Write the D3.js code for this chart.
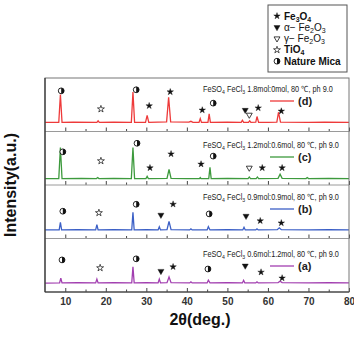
<!DOCTYPE html>
<html>
<head>
<meta charset="utf-8">
<script src="https://cdn.jsdelivr.net/npm/d3@7"></script>
<style>
  body { margin: 0; background: #fff; }
  #chart { width: 354px; height: 337px; }
</style>
</head>
<body>
<div id="chart"></div>
<script>
// XRD patterns, [2theta, intensity] where intensity is 0..100 of its own panel
const patternD = [[5,17],[8.4,17],[8.8,69],[9.2,17],[12,17.5],[17.8,17],[18.1,20],[18.4,17],[22,17.5],[26.3,17],[26.7,74],[27.1,17],[29.8,17],[30.2,30],[30.6,17],[35.0,18],[35.5,64],[36.0,18],[40.5,17.5],[41,19],[41.5,17],[43.0,17],[43.3,24],[43.6,17],[45.2,17],[45.5,33],[45.8,17],[50,17.5],[53.4,17],[53.7,21],[54,17],[55.2,17],[55.5,20],[55.8,17],[57.0,17.5],[57.3,28],[57.7,17],[60,17],[62.2,17.5],[62.6,36],[63.1,17.5],[70,17],[74,17.5],[80,17]];
const patternC = [[5,12],[8.4,12],[8.8,70],[9.2,12],[14,12.5],[17.7,12],[18,14],[18.3,12],[22,12.5],[26.3,12],[26.7,70],[27.1,12],[29.9,12],[30.2,16],[30.5,12],[35.1,12.5],[35.6,29],[36.1,12.5],[40,12],[43.1,12],[43.3,14],[43.5,12],[45.4,12],[45.7,33],[46,12],[50,12.5],[55.1,12],[55.4,15],[55.7,12],[57.1,12],[57.4,15],[57.7,12],[62.5,12.5],[63,20],[63.5,12.5],[69.4,12],[69.7,14],[70,12],[75,12.5],[80,12]];
const patternB = [[5,16],[8.5,16],[8.8,30],[9.1,16],[13,16.5],[17.5,16],[17.8,26],[18.1,16],[22,16.5],[26.4,16],[26.7,49],[27,16],[30,16.5],[32.9,16],[33.2,22],[33.5,16],[35.1,16.5],[35.6,32],[36.1,16.5],[40.7,16],[41,18],[41.3,16],[45,16],[45.3,22],[45.7,16],[50,16.5],[53.8,16],[54.1,21],[54.4,16],[57,16],[57.3,18],[57.6,16],[62.3,16.5],[62.8,20],[63.3,16.5],[70,16],[75,16.5],[80,16]];
const patternA = [[5,16.5],[8.6,17],[8.9,26],[9.2,17],[13,17.5],[17.5,17],[17.8,24],[18.1,17],[22,17.5],[26.4,17],[26.7,47],[27,17],[30,17.5],[32.9,17],[33.2,24],[33.5,17],[35.1,17.5],[35.6,28],[36.1,17.5],[40.7,17],[41,19],[41.3,17],[45,17],[45.3,22],[45.7,17],[50,17.5],[53.7,17],[54,22],[54.3,17],[57,17],[57.3,19],[57.6,17],[62.5,17.5],[63,20],[63.5,17.5],[70,17],[75,17.5],[80,17]];

// phase markers, [type, 2theta, level]
const markersD = [["mica",9,76],["tio",18.8,42],["mica",27.5,78],["star",30.7,48],["star",35.9,74],["star",43.8,40],["mica",46.5,53],["down",54.4,40],["downOpen",55.4,31],["star",57.6,44],["star",63.3,38]];
const markersC = [["mica",9.4,62],["tio",18.8,45],["mica",27.7,78],["star",30.9,32],["star",36.1,58],["star",43.5,39],["mica",46.5,54],["downOpen",55.4,32],["star",58.6,32],["star",63.5,32]];
const markersB = [["mica",9.4,51],["tio",18.3,48],["mica",27.5,64],["down",33.6,44],["star",36.6,64],["mica",45.5,46],["down",54.6,42],["star",58.1,33],["star",63.3,29]];
const markersA = [["mica",9.2,60],["tio",18.6,45],["mica",27.5,62],["down",33.6,39],["star",36.6,47],["mica",45.2,43],["down",54.4,49],["star",58.3,37],["star",63.5,26]];

const sampleLabels = ["(d)", "(c)", "(b)", "(a)"];
const sampleRatios = ["1.8mol:0mol", "1.2mol:0.6mol", "0.9mol:0.9mol", "0.6mol:1.2mol"];
const legendNames = ["Fe3O4", "alpha", "gamma", "TiO4", "Nature Mica"];
const xTicks = [10, 20, 30, 40, 50, 60, 70, 80];
const xMinorTicks = [15, 25, 35, 45, 55, 65, 75];

const panels = [
  { data: patternD, markers: markersD, color: "#ee3a3a", textY: 89 },
  { data: patternC, markers: markersC, color: "#3d9a3d", textY: 145 },
  { data: patternB, markers: markersB, color: "#3b5fc6", textY: 197 },
  { data: patternA, markers: markersA, color: "#a23fb0", textY: 254 },
];

const margin = { top: 78, left: 45, right: 5, bottom: 45 };
const width = 354 - margin.left - margin.right;
const height = 337 - margin.top - margin.bottom;
const panelH = height / 4;
const narrow = "'Liberation Sans Narrow', 'Liberation Sans', Arial, sans-serif";

const svg = d3.select("#chart").append("svg")
  .attr("width", 354)
  .attr("height", 337);

const x = d3.scaleLinear().domain([5, 80]).range([margin.left, margin.left + width]);

// marker drawing
function drawMarker(g, type, cx, cy) {
  if (type === "mica") {
    g.append("circle").attr("cx", cx).attr("cy", cy).attr("r", 2.9)
      .attr("fill", "#fff").attr("stroke", "#111").attr("stroke-width", 0.9);
    g.append("path")
      .attr("d", `M${cx},${cy - 2.9} A2.9,2.9 0 0 1 ${cx},${cy + 2.9} Z`)
      .attr("fill", "#111");
  } else if (type === "star" || type === "tio") {
    g.append("path")
      .attr("d", d3.symbol(d3.symbolStar, type === "star" ? 13 : 15)())
      .attr("transform", `translate(${cx},${cy})`)
      .attr("fill", type === "star" ? "#111" : "#fff")
      .attr("stroke", "#111").attr("stroke-width", type === "star" ? 0.4 : 0.7);
  } else {
    g.append("path")
      .attr("d", d3.symbol(d3.symbolTriangle, type === "down" ? 16 : 15)())
      .attr("transform", `translate(${cx},${cy}) rotate(180)`)
      .attr("fill", type === "down" ? "#111" : "#fff")
      .attr("stroke", "#111").attr("stroke-width", type === "down" ? 0.4 : 0.8);
  }
}

panels.forEach((p, i) => {
  const top = margin.top + i * panelH;
  const bottom = top + panelH;
  const y = d3.scaleLinear().domain([0, 100]).range([bottom, top]);
  const g = svg.append("g");

  // inward ticks at the bottom of each panel
  g.append("g")
    .attr("transform", `translate(0,${bottom})`)
    .call(d3.axisBottom(x).tickValues(xTicks).tickSize(-4).tickFormat(""))
    .call(a => a.select(".domain").remove())
    .call(a => a.selectAll("line").attr("stroke", "#444"));
  g.append("g")
    .attr("transform", `translate(0,${bottom})`)
    .call(d3.axisBottom(x).tickValues(xMinorTicks).tickSize(-2.5).tickFormat(""))
    .call(a => a.select(".domain").remove())
    .call(a => a.selectAll("line").attr("stroke", "#444"));

  // separator
  if (i < 3) {
    g.append("line")
      .attr("x1", margin.left).attr("x2", margin.left + width)
      .attr("y1", bottom).attr("y2", bottom)
      .attr("stroke", "#9a9a9a").attr("stroke-width", 1);
  }

  const line = d3.line().x(d => x(d[0])).y(d => y(d[1]));
  g.append("path")
    .datum(p.data)
    .attr("fill", "none")
    .attr("stroke", p.color)
    .attr("stroke-width", 1.3)
    .attr("d", line);

  p.markers.forEach(m => drawMarker(g, m[0], x(m[1]), y(m[2])));

  // sample condition, squeezed horizontally like a condensed face
  const t = g.append("text")
    .attr("transform", `translate(203,${p.textY + 3}) scale(0.86,1)`)
    .style("font-family", narrow).style("font-size", "8.5px").attr("fill", "#222");
  t.append("tspan").text("FeSO");
  t.append("tspan").style("font-size", "6px").attr("dy", 2).text("4");
  t.append("tspan").attr("dy", -2).text(" FeCl");
  t.append("tspan").style("font-size", "6px").attr("dy", 2).text("3");
  t.append("tspan").attr("dy", -2).text(` ${sampleRatios[i]}, 80 \u2103,  ph 9.0`);

  g.append("line")
    .attr("x1", 270).attr("x2", 294)
    .attr("y1", p.textY + 12).attr("y2", p.textY + 12)
    .attr("stroke", p.color).attr("stroke-width", 1.3);
  g.append("text")
    .attr("x", 298).attr("y", p.textY + 16)
    .style("font-family", "'Liberation Sans', Arial, sans-serif")
    .style("font-size", "11px").style("font-weight", "bold")
    .attr("fill", "#222")
    .text(sampleLabels[i]);
});

// frame
svg.append("rect")
  .attr("x", margin.left).attr("y", margin.top)
  .attr("width", width).attr("height", height)
  .attr("fill", "none").attr("stroke", "#777").attr("stroke-width", 1);
svg.append("line")
  .attr("x1", margin.left).attr("x2", margin.left)
  .attr("y1", margin.top).attr("y2", margin.top + height)
  .attr("stroke", "#333").attr("stroke-width", 1.2);
svg.append("line")
  .attr("x1", margin.left).attr("x2", margin.left + width)
  .attr("y1", margin.top + height).attr("y2", margin.top + height)
  .attr("stroke", "#333").attr("stroke-width", 1.2);

// tick labels
svg.append("g")
  .attr("transform", `translate(0,${margin.top + height})`)
  .call(d3.axisBottom(x).tickValues(xTicks).tickSize(0).tickPadding(6))
  .call(a => a.select(".domain").remove())
  .call(a => a.selectAll("text")
    .style("font-family", "'Liberation Sans', Arial, sans-serif")
    .style("font-size", "10px").style("font-weight", "bold").attr("fill", "#333"));

// axis titles
svg.append("text")
  .attr("x", 200).attr("y", 325)
  .attr("text-anchor", "middle")
  .style("font-family", "'Liberation Sans', Arial, sans-serif")
  .style("font-size", "16px").style("font-weight", "bold").attr("fill", "#111")
  .text("2\u03b8(deg.)");
svg.append("text")
  .attr("transform", "translate(16,185) rotate(-90)")
  .attr("text-anchor", "middle")
  .style("font-family", "'Liberation Sans', Arial, sans-serif")
  .style("font-size", "16px").style("font-weight", "bold").attr("fill", "#111")
  .text("Intensity(a.u.)");

// phase legend
const lg = svg.append("g");
lg.append("rect")
  .attr("x", 268).attr("y", 5).attr("width", 79).attr("height", 67)
  .attr("fill", "#fff").attr("stroke", "#555").attr("stroke-width", 1);
const legendTypes = ["star", "down", "downOpen", "tio", "mica"];
legendNames.forEach((name, i) => {
  const cy = 16 + i * 11.3;
  drawMarker(lg, legendTypes[i], 277, cy);
  const t = lg.append("text")
    .attr("x", 284).attr("y", cy + 3.5)
    .style("font-family", narrow).style("font-size", "10px").attr("fill", "#111");
  if (name === "Fe3O4") {
    t.style("font-weight", "bold");
    t.append("tspan").text("Fe");
    t.append("tspan").style("font-size", "7px").attr("dy", 2).text("3");
    t.append("tspan").attr("dy", -2).text("O");
    t.append("tspan").style("font-size", "7px").attr("dy", 2).text("4");
  } else if (name === "alpha" || name === "gamma") {
    t.append("tspan").text((name === "alpha" ? "\u03b1" : "\u03b3") + "\u2212 Fe");
    t.append("tspan").style("font-size", "7px").attr("dy", 2).text("2");
    t.append("tspan").attr("dy", -2).text("O");
    t.append("tspan").style("font-size", "7px").attr("dy", 2).text("3");
  } else if (name === "TiO4") {
    t.style("font-weight", "bold");
    t.append("tspan").text("TiO");
    t.append("tspan").style("font-size", "7px").attr("dy", 2).text("4");
  } else {
    t.style("font-weight", "bold").text(name);
  }
});
</script>
</body>
</html>
